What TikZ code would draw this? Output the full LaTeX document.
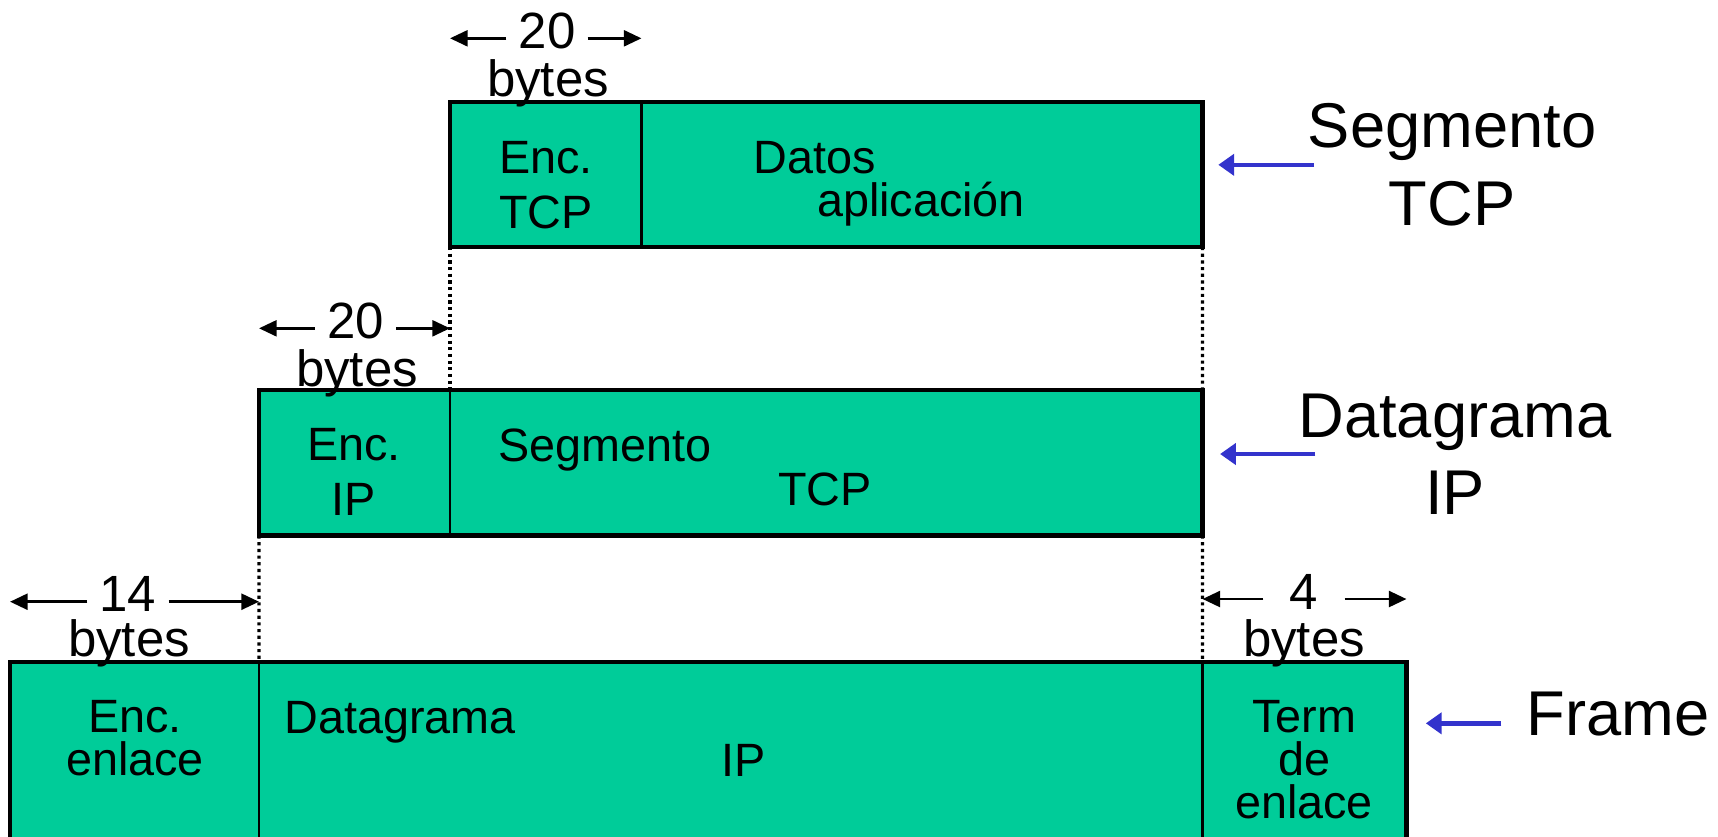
\documentclass[tikz,border=0pt]{standalone}
\usepackage{fontspec}
\setmainfont{Liberation Sans}
\usetikzlibrary{arrows.meta}
\definecolor{pktgreen}{RGB}{0,204,153}
\definecolor{ptrblue}{RGB}{51,51,204}
\tikzset{
	cell/.style={draw, line width=.6pt, fill=pktgreen, inner sep=0pt, outer sep=0pt, anchor=north west},
	rim/.style={line width=1.2pt},
	guide/.style={densely dotted, line width=.9pt},
	txt/.style={font=\fontsize{13.3}{15.7}\selectfont, inner sep=0pt, align=center},
	dimnum/.style={font=\fontsize{14.5}{16}\selectfont, inner sep=0pt, minimum width=.8cm, text height=.2cm, text depth=0cm},
	dimtxt/.style={font=\fontsize{14.5}{16}\selectfont, inner sep=0pt, anchor=base},
	dim/.style={-{Triangle[length=5pt,width=4.5pt]}, line width=.8pt},
	ptr/.style={-{Triangle[length=4.5pt,width=6pt]}, line width=1.3pt, ptrblue},
	tag/.style={font=\fontsize{18}{22}\selectfont, inner sep=0pt, align=center}
}
\begin{document}
\begin{tikzpicture}
	\useasboundingbox (0,0) rectangle (17.18,-8.36);

	\node[cell, minimum width=1.915cm, minimum height=1.45cm] (tcphdr) at (4.50,-1.02) {};
	\node[cell, minimum width=5.61cm, minimum height=1.45cm] (tcpdata) at (tcphdr.north east) {};
	\draw[rim] (tcphdr.north west) rectangle (tcpdata.south east);

	\node[cell, minimum width=1.91cm, minimum height=1.455cm] (iphdr) at (2.59,-3.90) {};
	\node[cell, minimum width=7.525cm, minimum height=1.455cm] (ipdata) at (iphdr.north east) {};
	\draw[rim] (iphdr.north west) rectangle (ipdata.south east);

	\node[cell, minimum width=2.49cm, minimum height=2cm] (frhdr) at (0.10,-6.617) {};
	\node[cell, minimum width=9.435cm, minimum height=2cm] (frdata) at (frhdr.north east) {};
	\node[cell, minimum width=2.04cm, minimum height=2cm] (frtrail) at (frdata.north east) {};
	\draw[rim] (frhdr.north west) rectangle (frtrail.south east);

	\draw[guide] (tcphdr.south west) -- (iphdr.north east);
	\draw[guide] (tcpdata.south east) -- (ipdata.north east);
	\draw[guide] (iphdr.south west) -- (frhdr.north east);
	\draw[guide] (ipdata.south east) -- (frdata.north east);

	\node[dimnum] (tcpnum) at (5.47,-0.383) {20};
	\draw[dim] (tcpnum.west) -- (tcpnum.west -| tcphdr.west);
	\draw[dim] (tcpnum.east) -- (tcpnum.east -| tcphdr.east);
	\node[dimtxt] (tcpbytes) at (5.48,-0.967) {bytes};

	\node[dimnum] (ipnum) at (3.555,-3.283) {20};
	\draw[dim] (ipnum.west) -- (ipnum.west -| iphdr.west);
	\draw[dim] (ipnum.east) -- (ipnum.east -| iphdr.east);
	\node[dimtxt] (ipbytes) at (3.57,-3.86) {bytes};

	\node[dimnum] (frhdrnum) at (1.28,-6.017) {14};
	\draw[dim] (frhdrnum.west) -- (frhdrnum.west -| frhdr.west);
	\draw[dim] (frhdrnum.east) -- (frhdrnum.east -| frhdr.east);
	\node[dimtxt] (frhdrbytes) at (1.29,-6.567) {bytes};

	\node[dimnum] (frtrailnum) at (13.04,-5.99) {4};
	\draw[dim] (frtrailnum.west) -- (frtrailnum.west -| frtrail.west);
	\draw[dim] (frtrailnum.east) -- (frtrailnum.east -| frtrail.east);
	\node[dimtxt] (frtrailbytes) at (13.04,-6.567) {bytes};

	\node[txt] (enctcp) at (5.46,-1.85) {Enc.\\TCP};
	\node[txt, anchor=base] (datos) at (8.15,-1.733) {Datos};
	\node[txt, anchor=base] (aplic) at (9.21,-2.167) {aplicación};

	\node[txt, font=\fontsize{13.3}{15.6}\selectfont] (encip) at (3.54,-4.722) {Enc.\\IP};
	\node[txt, anchor=base] (segip) at (6.05,-4.617) {Segmento};
	\node[txt, anchor=base] (tcpip) at (8.25,-5.05) {TCP};

	\node[txt, font=\fontsize{13.3}{12.3}\selectfont] (encfr) at (1.35,-7.38) {Enc.\\enlace};
	\node[txt, anchor=base] (dgfr) at (4.00,-7.333) {Datagrama};
	\node[txt, anchor=base] (ipfr) at (7.44,-7.767) {IP};
	\node[txt, font=\fontsize{13.3}{12.3}\selectfont] (termfr) at (13.04,-7.596) {Term\\de\\enlace};

	\node[tag] (seglabel) at (14.52,-1.648) {Segmento\\TCP};
	\draw[ptr] ([xshift=2pt]seglabel.west) -- ([xshift=4.5pt]seglabel.west -| tcpdata.east);

	\node[tag] (dglabel) at (14.55,-4.54) {Datagrama\\IP};
	\draw[ptr] ([xshift=5pt]dglabel.west) -- ([xshift=5pt]dglabel.west -| ipdata.east);

	\node[tag, text depth=.19cm] (framelabel) at (16.18,-7.233) {Frame};
	\draw[ptr] ([xshift=-7pt]framelabel.west) -- ([xshift=5.5pt]framelabel.west -| frtrail.east);
\end{tikzpicture}
\end{document}
